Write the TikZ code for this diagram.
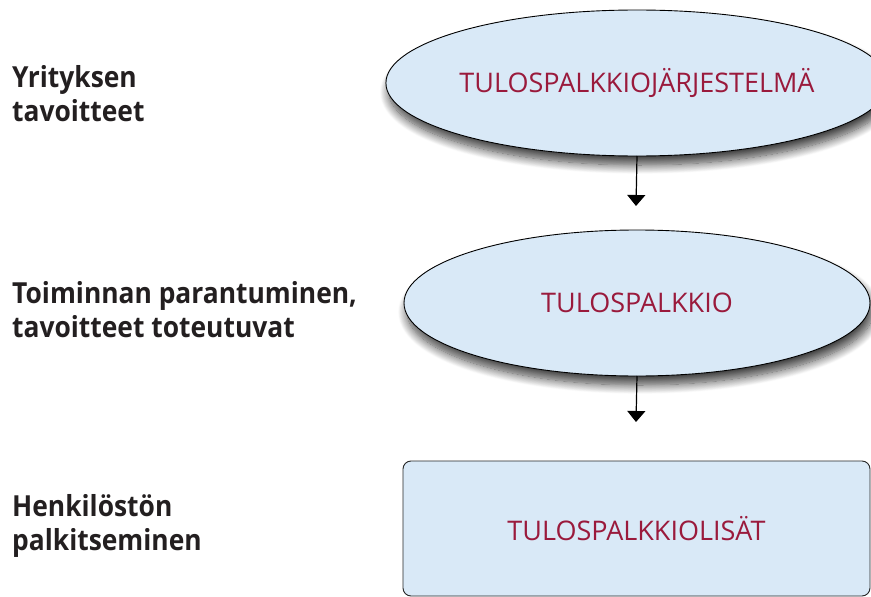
\documentclass[tikz,border=0pt]{standalone}
\usepackage{fontspec}
\setmainfont{Open Sans}
\newfontfamily\lblfont[FakeStretch=0.91]{Open Sans}
\usetikzlibrary{shapes.geometric,shadows.blur,arrows.meta}
\definecolor{boxfill}{HTML}{D9E9F7}
\definecolor{boxtext}{HTML}{9A1A3C}
\definecolor{lbl}{HTML}{231F20}
\tikzset{
  oval/.style={ellipse, draw=black, line width=0.9pt, fill=boxfill, minimum width=466pt, minimum height=146pt, inner sep=0pt, outer sep=0pt,
    blur shadow={shadow xshift=3pt, shadow yshift=-9pt, shadow blur steps=14, shadow blur radius=9pt, shadow opacity=75},
    font=\fontsize{27}{30}\selectfont, text=boxtext},
  plainbox/.style={rectangle, rounded corners=8pt, draw=black!85, line width=0.9pt, fill=boxfill, minimum width=467pt, minimum height=135pt, inner sep=0pt,
    font=\fontsize{27}{30}\selectfont, text=boxtext},
  sidelabel/.style={anchor=base west, align=left, inner sep=0pt, text=lbl, font=\lblfont\bfseries\fontsize{29}{34}\selectfont},
  flow/.style={line width=1.2pt, -{Triangle[width=18pt,length=11pt]}}
}
\begin{document}
\begin{tikzpicture}[x=1pt,y=-1pt]
\useasboundingbox (0,0) rectangle (871,597);
\node[oval] (a) at (637,83) {TULOSPALKKIOJÄRJESTELMÄ};
\node[oval] (b) at (637,303) {TULOSPALKKIO};
\node[plainbox] (c) at (636.5,528.5) {TULOSPALKKIOLISÄT};
\coordinate (a1) at (636,206);
\coordinate (b1) at (636,422);
\draw[flow] (a.south) -- (a1);
\draw[flow] (b.south) -- (b1);
\node[sidelabel] (l1) at (12,121) {Yrityksen\\tavoitteet};
\node[sidelabel] (l2) at (12,337) {Toiminnan parantuminen,\\tavoitteet toteutuvat};
\node[sidelabel] (l3) at (12,550) {Henkilöstön\\palkitseminen};
\end{tikzpicture}
\end{document}
